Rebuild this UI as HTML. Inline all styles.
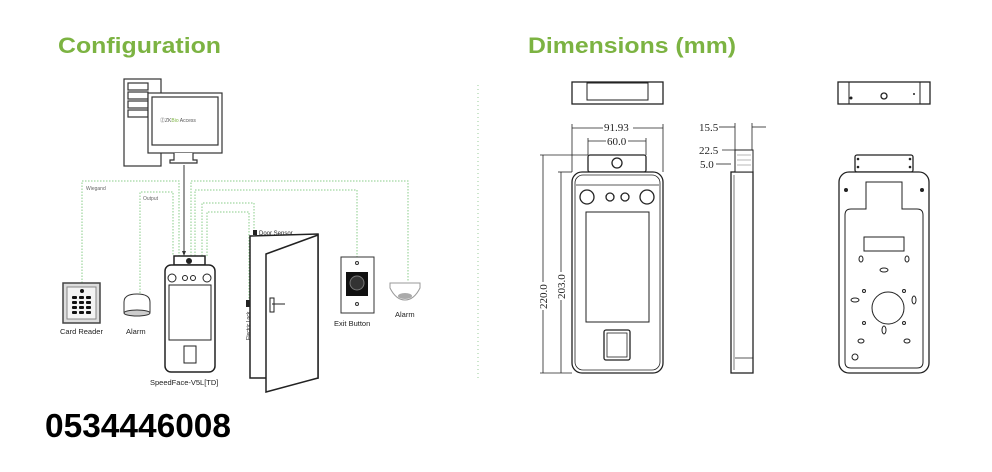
<!DOCTYPE html>
<html><head><meta charset="utf-8"><style>
html,body{margin:0;padding:0;background:#fff;}
svg{display:block;font-family:"Liberation Sans",sans-serif;}
</style></head><body>
<svg width="992" height="472" viewBox="0 0 992 472" xmlns="http://www.w3.org/2000/svg">
<rect width="992" height="472" fill="#fff"/>
<text x="58" y="53" font-size="22" font-weight="bold" fill="#7cb342" textLength="163" lengthAdjust="spacingAndGlyphs">Configuration</text>
<text x="528" y="53" font-size="22" font-weight="bold" fill="#7cb342" textLength="208" lengthAdjust="spacingAndGlyphs">Dimensions (mm)</text>
<line x1="478" y1="85" x2="478" y2="380" stroke="#9c9" stroke-dasharray="1,3"/>
<text x="45" y="437" font-size="33" font-weight="bold" fill="#000" textLength="186" lengthAdjust="spacingAndGlyphs">0534446008</text>

<!-- green wires -->
<g fill="none" stroke="#8c8" stroke-dasharray="1.5,1.5" stroke-width="1">
<path d="M82,283 V181 H179 V256"/>
<path d="M140,293 V192 H173 V256"/>
<path d="M191,256 V181 H408 V282"/>
<path d="M195,256 V190 H357 V257"/>
<path d="M202,256 V203 H254 V232"/>
<path d="M207,256 V212 H249 V300"/>
</g>
<text x="86" y="190" font-size="5" fill="#666">Wiegand</text>
<text x="143" y="200" font-size="5" fill="#666">Output</text>
<line x1="184" y1="165" x2="184" y2="254" stroke="#333"/>
<path d="M182,251 L184,256 L186,251Z" fill="#333"/>

<!-- computer -->
<g fill="#fff" stroke="#333" stroke-width="1.2">
<rect x="124" y="79" width="37" height="87"/>
<rect x="128" y="83" width="20" height="7"/><rect x="128" y="92" width="20" height="7"/><rect x="128" y="101" width="20" height="7"/><rect x="128" y="110" width="20" height="7"/>
<rect x="148" y="93" width="74" height="60"/>
<rect x="152" y="97" width="66" height="48"/>
<path d="M174,153 V160 H170 V163 H197 V160 H193 V153"/>
</g>
<text x="160" y="122" font-size="5" fill="#555">ⓏZK<tspan fill="#7cb342">Bio</tspan> Access</text>

<!-- device -->
<g fill="#fff" stroke="#222" stroke-width="1.5">
<rect x="174" y="256" width="31" height="9"/>
<rect x="165" y="265" width="50" height="107" rx="6"/>
<rect x="169" y="285" width="42" height="55" stroke-width="1"/>
<rect x="184" y="346" width="12" height="17" stroke-width="1"/>
<circle cx="172" cy="278" r="4" stroke-width="1"/><circle cx="185" cy="278" r="2.5" stroke-width="1"/><circle cx="193" cy="278" r="2.5" stroke-width="1"/><circle cx="207" cy="278" r="4" stroke-width="1"/>
</g>
<circle cx="189" cy="261" r="3" fill="#222"/>
<text x="150" y="385" font-size="7.5" fill="#222">SpeedFace-V5L[TD]</text>

<!-- door -->
<g fill="#fff" stroke="#222" stroke-width="1.5">
<path d="M250,236 L318,234 L318,378 L250,378Z"/>
<path d="M266,254 L318,235 L318,378 L266,392Z"/>
<rect x="270" y="298" width="4" height="14" stroke-width="1"/>
</g>
<line x1="272" y1="304" x2="285" y2="304" stroke="#222"/>
<rect x="253" y="230" width="4" height="5" fill="#222"/>
<text x="259" y="235" font-size="6" fill="#222">Door Sensor</text>
<rect x="246" y="300" width="4" height="7" fill="#222"/>
<text x="250" y="340" font-size="5" fill="#222" transform="rotate(-90 250 340)">Electric Lock</text>

<!-- exit button -->
<rect x="341" y="257" width="33" height="56" fill="#fff" stroke="#333"/>
<rect x="346" y="272" width="22" height="24" fill="#111"/>
<circle cx="357" cy="283" r="7" fill="#333" stroke="#777"/>
<circle cx="357" cy="263" r="1.5" fill="none" stroke="#333"/><circle cx="357" cy="304" r="1.5" fill="none" stroke="#333"/>
<text x="334" y="326" font-size="7.5" fill="#222">Exit Button</text>

<!-- right alarm -->
<path d="M390,283 H420 V288 Q414,300 405,300 Q396,300 390,288Z" fill="#fff" stroke="#999"/>
<ellipse cx="405" cy="296" rx="7" ry="3" fill="#aaa"/>
<text x="395" y="317" font-size="7.5" fill="#222">Alarm</text>

<!-- card reader -->
<rect x="63" y="283" width="37" height="40" fill="#ddd" stroke="#444" stroke-width="1.5"/>
<rect x="67" y="287" width="29" height="32" fill="#f4f4f4" stroke="#888"/>
<g fill="#111">
<rect x="72" y="296" width="5" height="3" rx="1"/><rect x="79" y="296" width="5" height="3" rx="1"/><rect x="86" y="296" width="5" height="3" rx="1"/>
<rect x="72" y="301" width="5" height="3" rx="1"/><rect x="79" y="301" width="5" height="3" rx="1"/><rect x="86" y="301" width="5" height="3" rx="1"/>
<rect x="72" y="306" width="5" height="3" rx="1"/><rect x="79" y="306" width="5" height="3" rx="1"/><rect x="86" y="306" width="5" height="3" rx="1"/>
<rect x="72" y="311" width="5" height="3" rx="1"/><rect x="79" y="311" width="5" height="3" rx="1"/><rect x="86" y="311" width="5" height="3" rx="1"/>
<circle cx="82" cy="291" r="2"/>
</g>
<text x="60" y="334" font-size="7.5" fill="#222">Card Reader</text>

<!-- left alarm -->
<path d="M124,312 V302 Q124,294 137,294 Q150,294 150,302 V312Z" fill="#fff" stroke="#333"/>
<ellipse cx="137" cy="313" rx="13" ry="3" fill="#ccc" stroke="#333"/>
<text x="126" y="334" font-size="7.5" fill="#222">Alarm</text>

<!-- DIMENSIONS -->
<g fill="#fff" stroke="#222" stroke-width="1.3">
<rect x="572" y="82" width="91" height="22"/>
<rect x="587" y="83" width="61" height="17" stroke-width="1"/>
<rect x="588" y="155" width="58" height="17" rx="2"/>
<rect x="572" y="172" width="91" height="201" rx="10"/>
<rect x="575" y="175" width="85" height="195" rx="8" stroke-width="0.8"/>
<rect x="586" y="212" width="63" height="110" stroke-width="1"/>
<rect x="604" y="330" width="26" height="30" rx="2"/>
<rect x="607" y="333" width="20" height="24" stroke-width="0.8"/>
<circle cx="587" cy="197" r="7"/><circle cx="610" cy="197" r="4"/><circle cx="625" cy="197" r="4"/><circle cx="647" cy="197" r="7"/>
<circle cx="617" cy="163" r="5"/>
</g>
<line x1="576" y1="185" x2="659" y2="185" stroke="#222" stroke-width="0.8"/>
<g stroke="#222" stroke-width="0.8" fill="none">
<line x1="543" y1="155" x2="543" y2="373"/><line x1="540" y1="155" x2="588" y2="155"/><line x1="540" y1="373" x2="572" y2="373"/>
<line x1="561" y1="172" x2="561" y2="373"/><line x1="558" y1="172" x2="572" y2="172"/>
<line x1="572" y1="128" x2="663" y2="128"/><line x1="572" y1="124" x2="572" y2="172"/><line x1="663" y1="124" x2="663" y2="172"/>
<line x1="588" y1="141" x2="646" y2="141"/><line x1="588" y1="138" x2="588" y2="155"/><line x1="646" y1="138" x2="646" y2="155"/>
</g>
<g font-family="Liberation Serif,serif" font-size="11" fill="#222">
<rect x="603" y="120" width="30" height="12" fill="#fff"/>
<text x="604" y="131">91.93</text>
<rect x="606" y="134" width="22" height="12" fill="#fff"/>
<text x="607" y="145">60.0</text>
<g transform="rotate(-90 547 290)"><rect x="527" y="280" width="28" height="12" fill="#fff"/><text x="528" y="290">220.0</text></g>
<g transform="rotate(-90 565 280)"><rect x="545" y="270" width="28" height="12" fill="#fff"/><text x="546" y="280">203.0</text></g>
<text x="699" y="131">15.5</text>
<text x="699" y="154">22.5</text>
<text x="700" y="168">5.0</text>
</g>
<!-- side view -->
<g fill="#fff" stroke="#222" stroke-width="1.3">
<rect x="731" y="172" width="22" height="201"/>
<rect x="735" y="150" width="18" height="22" stroke-width="1"/>
</g>
<line x1="735" y1="358" x2="753" y2="358" stroke="#222" stroke-width="0.8"/>
<line x1="734" y1="175" x2="734" y2="370" stroke="#222" stroke-width="0.6"/>
<g stroke="#888" stroke-width="0.6"><line x1="737" y1="155" x2="751" y2="155"/><line x1="737" y1="160" x2="751" y2="160"/><line x1="737" y1="165" x2="751" y2="165"/></g>
<g stroke="#222" stroke-width="0.8">
<line x1="719" y1="127" x2="735" y2="127"/><line x1="752" y1="127" x2="766" y2="127"/>
<line x1="735" y1="123" x2="735" y2="150"/><line x1="752" y1="123" x2="752" y2="150"/>
<line x1="722" y1="150" x2="753" y2="150"/><line x1="716" y1="164" x2="731" y2="164"/>
</g>
<!-- back top -->
<g fill="#fff" stroke="#222" stroke-width="1.3">
<rect x="838" y="82" width="92" height="22"/>
<line x1="849" y1="82" x2="849" y2="104" stroke-width="1"/><line x1="920" y1="82" x2="920" y2="104" stroke-width="1"/>
<circle cx="884" cy="96" r="3"/>
</g>
<circle cx="851" cy="98" r="1.5" fill="#222"/><circle cx="914" cy="94" r="1" fill="#222"/>
<!-- back view -->
<g fill="#fff" stroke="#222" stroke-width="1.3">
<rect x="855" y="155" width="58" height="17" rx="2"/>
<rect x="839" y="172" width="90" height="201" rx="10"/>
<path d="M845,215 Q845,209 851,209 H866 V182 H902 V209 H917 Q923,209 923,215 V362 Q923,368 917,368 H851 Q845,368 845,362Z" stroke-width="1"/>
<rect x="864" y="237" width="40" height="14" stroke-width="1"/>
<circle cx="888" cy="308" r="16" stroke-width="1"/>
</g>
<g fill="none" stroke="#222" stroke-width="1">
<ellipse cx="861" cy="259" rx="2" ry="3"/><ellipse cx="907" cy="259" rx="2" ry="3"/>
<ellipse cx="884" cy="270" rx="4" ry="2"/>
<ellipse cx="855" cy="300" rx="4" ry="2"/><ellipse cx="914" cy="300" rx="2" ry="4"/>
<circle cx="864" cy="291" r="1.5"/><circle cx="904" cy="291" r="1.5"/><circle cx="864" cy="323" r="1.5"/><circle cx="904" cy="323" r="1.5"/>
<ellipse cx="884" cy="330" rx="2" ry="4"/>
<ellipse cx="861" cy="341" rx="3" ry="2"/><ellipse cx="907" cy="341" rx="3" ry="2"/>
<circle cx="855" cy="357" r="3"/>
</g>
<g fill="#222"><circle cx="846" cy="190" r="2"/><circle cx="922" cy="190" r="2"/>
<circle cx="858" cy="159" r="1.3"/><circle cx="858" cy="167" r="1.3"/><circle cx="910" cy="159" r="1.3"/><circle cx="910" cy="167" r="1.3"/></g>
</svg>
</body></html>
